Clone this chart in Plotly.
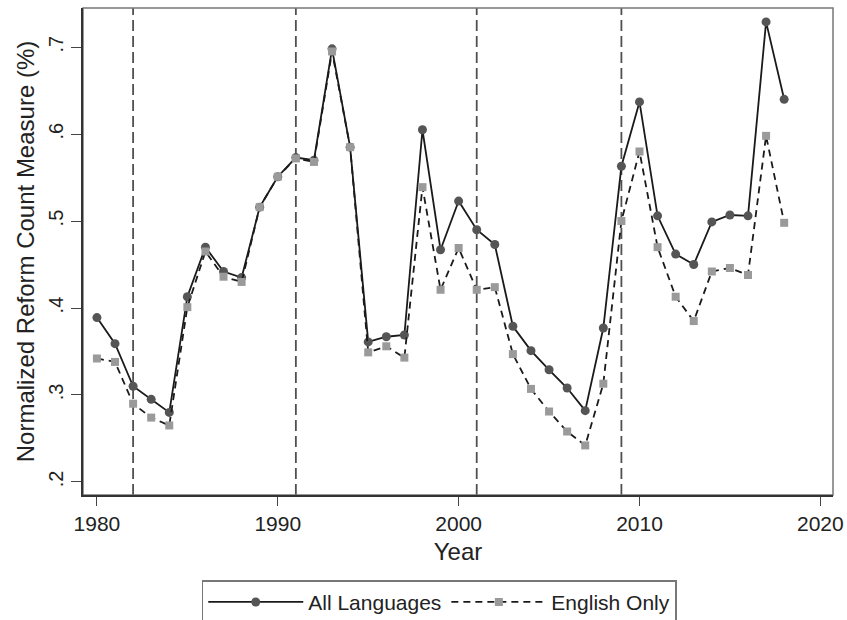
import plotly.graph_objects as go

years = list(range(1980, 2019))

all_languages = [
    0.389, 0.359, 0.310, 0.295, 0.280, 0.413, 0.470, 0.442, 0.435, 0.516,
    0.551, 0.573, 0.570, 0.698, 0.585, 0.361, 0.367, 0.369, 0.605, 0.467,
    0.523, 0.490, 0.473, 0.379, 0.351, 0.329, 0.308, 0.282, 0.377, 0.563,
    0.637, 0.506, 0.462, 0.450, 0.499, 0.507, 0.506, 0.729, 0.640,
]

english_only = [
    0.342, 0.338, 0.290, 0.274, 0.265, 0.401, 0.465, 0.436, 0.430, 0.516,
    0.551, 0.572, 0.568, 0.695, 0.585, 0.349, 0.356, 0.343, 0.539, 0.421,
    0.469, 0.421, 0.424, 0.347, 0.307, 0.281, 0.258, 0.242, 0.313, 0.500,
    0.580, 0.470, 0.413, 0.385, 0.442, 0.446, 0.438, 0.598, 0.498,
]

event_years = [1982, 1991, 2001, 2009]

x_ticks = [1980, 1990, 2000, 2010, 2020]
y_ticks = [0.2, 0.3, 0.4, 0.5, 0.6, 0.7]
y_tick_text = [".2", ".3", ".4", ".5", ".6", ".7"]

FONT = "Liberation Sans, Arial, sans-serif"
INK = "#222222"

fig = go.Figure()

fig.add_trace(go.Scatter(
    x=years, y=all_languages, name="All Languages", mode="lines+markers",
    line=dict(color="#1a1a1a", width=1.8),
    marker=dict(symbol="circle", size=9, color="#555555"),
))
fig.add_trace(go.Scatter(
    x=years, y=english_only, name="English Only", mode="lines+markers",
    line=dict(color="#1a1a1a", width=1.8, dash="7px,5px"),
    marker=dict(symbol="square", size=8, color="#9a9a9a"),
))

for yr in event_years:
    fig.add_vline(x=yr, line=dict(color="#505050", width=1.8, dash="11px,5px"),
                  layer="below")

# light frame around the plot region
fig.add_shape(type="rect", xref="paper", yref="paper", x0=0, y0=0, x1=1, y1=1,
              line=dict(color="#777777", width=1.5), layer="below")

fig.update_layout(
    width=847, height=620,
    margin=dict(l=83, r=14, t=8, b=125),
    paper_bgcolor="white", plot_bgcolor="white",
    font=dict(family=FONT, color=INK),
    showlegend=True,
    legend=dict(
        orientation="h", x=0.475, xanchor="center",
        yref="container", y=0.064, yanchor="top",
        bordercolor="#777777", borderwidth=1.5, font=dict(size=21, color=INK),
        itemwidth=95,
    ),
    xaxis=dict(
        range=[1979.23, 2020.7], tickvals=x_ticks, showgrid=False, zeroline=False,
        showline=True, linecolor="#333333", linewidth=1.6, automargin=False,
        ticks="outside", ticklen=9, tickcolor="#444444", tickwidth=1.2,
        tickfont=dict(size=21, color=INK),
        title=dict(text="Year", font=dict(size=24, color=INK), standoff=9),
    ),
    yaxis=dict(
        range=[0.185, 0.745], tickvals=y_ticks, ticktext=y_tick_text,
        tickangle=-90, showgrid=False, zeroline=False, automargin=False,
        showline=True, linecolor="#333333", linewidth=1.6,
        ticks="outside", ticklen=10, tickcolor="#444444", tickwidth=1.2,
        tickfont=dict(size=20, color=INK),
        title=dict(text="Normalized Reform Count Measure (%)",
                   font=dict(size=24, color=INK), standoff=4),
    ),
)

fig.write_html("out.html")
